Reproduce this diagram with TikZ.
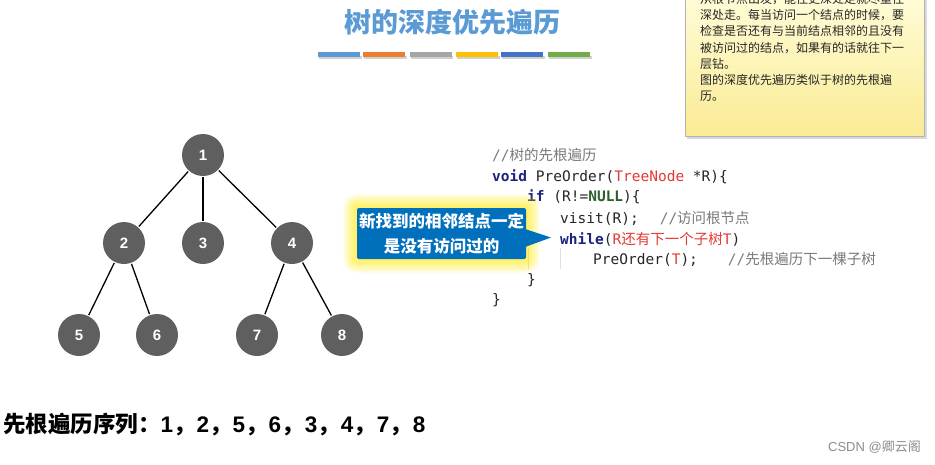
\documentclass[tikz,border=0pt]{standalone}
\usepackage{fontspec}
\setmainfont{Liberation Sans}
\setmonofont{DejaVu Sans Mono}
\newfontfamily\cjk{Noto Sans CJK SC}
\usetikzlibrary{calc}

\definecolor{titleblue}{HTML}{5B9BD5}
\definecolor{barblue}{HTML}{5B9BD5}
\definecolor{barorange}{HTML}{ED7D31}
\definecolor{bargray}{HTML}{A5A5A5}
\definecolor{baryellow}{HTML}{FFC000}
\definecolor{bardarkblue}{HTML}{4472C4}
\definecolor{bargreen}{HTML}{70AD47}
\definecolor{nodegray}{HTML}{5F5F5F}
\definecolor{kwblue}{HTML}{1A237E}
\definecolor{kwgreen}{HTML}{2E5F2E}
\definecolor{codered}{HTML}{E53935}
\definecolor{commentgray}{HTML}{7A7A7A}
\definecolor{calloutblue}{HTML}{0070BC}
\definecolor{notetop}{HTML}{FFFCD8}
\definecolor{notebottom}{HTML}{FAEB94}

\newcommand{\kw}[1]{\textcolor{kwblue}{\bfseries #1}}
\newcommand{\nul}[1]{\textcolor{kwgreen}{\bfseries #1}}
\newcommand{\rd}[1]{\textcolor{codered}{#1}}
\newcommand{\cm}[1]{\textcolor{commentgray}{#1}}
\newcommand{\sepc}{{\cjk ，}\hspace{1pt}}

\begin{document}
\begin{tikzpicture}[x=1pt, y=-1pt,
    treenode/.style={circle, fill=nodegray, minimum size=42pt, inner sep=0pt,
        text=white, font=\bfseries\fontsize{15}{15}\selectfont},
    edge/.style={line width=1.3pt, shorten <=1pt, shorten >=1pt},
    colorbar/.style={minimum width=42pt, minimum height=4.5pt, inner sep=0pt},
    codeline/.style={anchor=west, inner sep=0pt, text=black!85,
        font=\ttfamily\fontsize{14.5}{14.5}\selectfont},
    notetext/.style={anchor=west, inner sep=0pt, text=black!85,
        font=\cjk\fontsize{12}{12}\selectfont},
    guide/.style={draw=black!12, line width=0.8pt}]
\useasboundingbox (0,0) rectangle (935,464);
\fill[white] (0,0) rectangle (935,464);

% title and colour bars
\node[text=titleblue, font=\cjk\bfseries\fontsize{27}{27}\selectfont] (title) at (452,22) {树的深度优先遍历};
\foreach \name/\xc/\col in {b1/339/barblue, b2/384/barorange, b3/430.5/bargray,
    b4/477/baryellow, b5/522/bardarkblue, b6/569/bargreen} {
  \fill[black, opacity=0.18] (\xc-20,55.5) rectangle (\xc+22.5,59);
  \node[colorbar, fill=\col] (\name) at (\xc,54.5) {};
}

% note box (top right, cut by the page edge)
\fill[black, opacity=0.15] (687,-5) rectangle (927,138.5);
\shade[top color=notetop, bottom color=notebottom, draw=black!30] (685,-5) rectangle (924.5,136);
\foreach \line [count=\i] in {从根节点出发，能往更深处走就尽量往,
    深处走。每当访问一个结点的时候，要,
    检查是否还有与当前结点相邻的且没有,
    被访问过的结点，如果有的话就往下一,
    层钻。,
    图的深度优先遍历类似于树的先根遍,
    历。} {
  \node[notetext] (note\i) at (700,{-1.3+16.3*(\i-1)}) {\line};
}

% tree
\node[treenode] (n1) at (203,155) {1};
\node[treenode] (n2) at (124,243) {2};
\node[treenode] (n3) at (203,243) {3};
\node[treenode] (n4) at (292,243) {4};
\node[treenode] (n5) at (79,335) {5};
\node[treenode] (n6) at (157,335) {6};
\node[treenode] (n7) at (257,335) {7};
\node[treenode] (n8) at (342,335) {8};

\draw[edge] (n1) -- (n2);
\draw[edge] (n1) -- (n3);
\draw[edge] (n1) -- (n4);
\draw[edge] (n2) -- (n5);
\draw[edge] (n2) -- (n6);
\draw[edge] (n4) -- (n7);
\draw[edge] (n4) -- (n8);

% code
\draw[guide] (528,248) -- (528,270);
\draw[guide] (560,248) -- (560,269);
\node[codeline] (c1) at (492,155) {\cm{//{\cjk 树的先根遍历}}};
\node[codeline] (c2) at (492,177) {\kw{void} PreOrder(\rd{TreeNode} *R)\{};
\node[codeline] (c3) at (527,197) {\kw{if} (R!=\nul{NULL})\{};
\node[codeline] (c4) at (560,218) {visit(R);\hspace{21pt}\cm{//{\cjk 访问根节点}}};
\node[codeline] (c5) at (560,239) {\kw{while}(\rd{R{\cjk 还有下一个子树}T})};
\node[codeline] (c6) at (593,259) {PreOrder(\rd{T});\hspace{30pt}\cm{//{\cjk 先根遍历下一棵子树}}};
\node[codeline] (c7) at (527,280) {\}};
\node[codeline] (c8) at (492,300) {\}};

% callout with glow
\coordinate (calltip) at (551,237.5);
\foreach \g in {1,...,14} {
  \fill[yellow, opacity=0.06, rounded corners={\g pt}] (357-\g,208-\g) rectangle (526+\g,259+\g);
}
\fill[calloutblue] (525,229) -- (calltip) -- (525,247) -- cycle;
\node[fill=calloutblue, rounded corners=2pt, minimum width=169pt, minimum height=51pt,
    inner sep=0pt, text=white, align=center,
    font=\cjk\bfseries\fontsize{16.5}{25}\selectfont] (callout) at (441.5,233.5)
    {新找到的相邻结点一定\\是没有访问过的};

% traversal order
\node[anchor=west, inner sep=0pt, font=\bfseries\fontsize{22.5}{22.5}\selectfont] (order) at (3,425)
    {{\cjk 先根遍历序列：}1\sepc 2\sepc 5\sepc 6\sepc 3\sepc 4\sepc 7\sepc 8};

% watermark
\node[anchor=east, inner sep=0pt, text=black!45, font=\fontsize{13}{13}\selectfont] (mark) at (921,447)
    {CSDN @{\cjk 卿云阁}};
\end{tikzpicture}
\end{document}
